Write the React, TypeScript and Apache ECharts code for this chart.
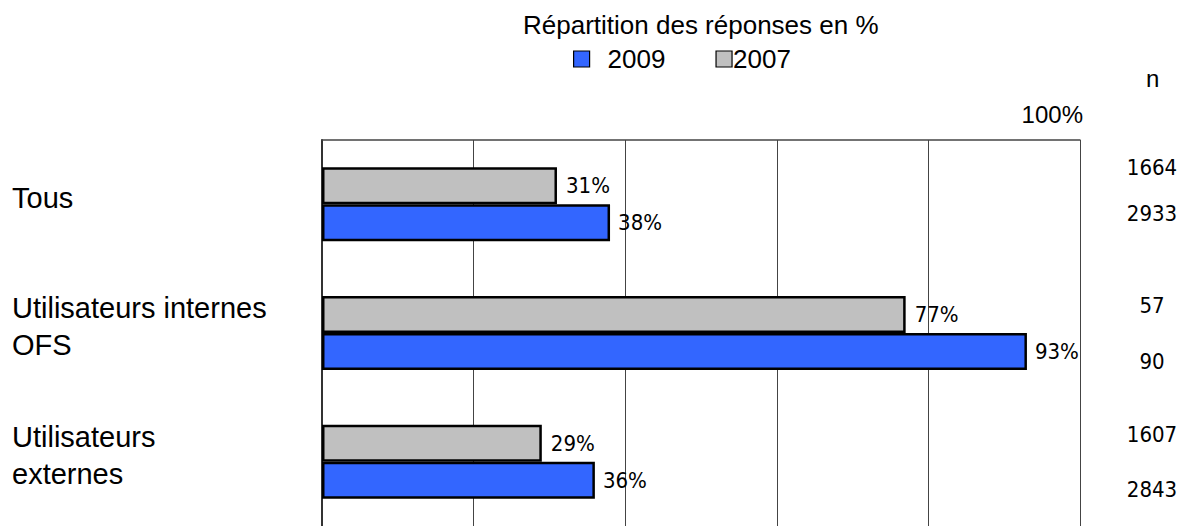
import React, { useEffect, useRef } from "react";
import * as echarts from "echarts";

const categories = ["Tous", "Utilisateurs internes\nOFS", "Utilisateurs\nexternes"];
const values2007 = [31, 77, 29];
const values2009 = [38, 93, 36];
const n2007 = [1664, 57, 1607];
const n2009 = [2933, 90, 2843];
const xTicks = [0, 20, 40, 60, 80, 100];

const SANS = "'Liberation Sans', Arial, sans-serif";
const NARROW = "'Liberation Sans Narrow', 'Arial Narrow', 'DejaVu Sans Condensed', sans-serif";
const BLUE = "#3366FF";
const GRAY = "#C0C0C0";

export default function App() {
  const ref = useRef<HTMLDivElement>(null);
  useEffect(() => {
    if (!ref.current) return;
    const chart = echarts.init(ref.current, undefined, { renderer: "svg" });
    const nLine = [45.5, 56, 55];
    const nFont = 22;
    chart.setOption({
      animation: false,
      backgroundColor: "#ffffff",
      title: {
        text: "Répartition des réponses en %",
        left: 523,
        top: 12,
        padding: 0,
        textStyle: { fontFamily: SANS, fontSize: 26, fontWeight: "normal", color: "#000" },
      },
      legend: {
        data: ["2009", "2007"],
        left: 573,
        top: 46,
        padding: 0,
        itemWidth: 16,
        itemHeight: 16,
        itemGap: 50,
        icon: "rect",
        itemStyle: { borderColor: "#000", borderWidth: 1.2 },
        formatter: (name: string) => (name === "2009" ? "{g|}" + name : name),
        textStyle: {
          fontFamily: SANS,
          fontSize: 26,
          color: "#000",
          padding: [0, 0, 0, -4],
          rich: { g: { width: 17, fontSize: 26 } },
        },
      },
      graphic: [
        {
          type: "text",
          left: 1146,
          top: 66,
          style: { text: "n", font: `24px ${SANS}`, fill: "#000" },
        },
      ],
      grid: { left: 322, top: 140, width: 758, height: 390, containLabel: false },
      xAxis: {
        type: "value",
        position: "top",
        min: xTicks[0],
        max: xTicks[xTicks.length - 1],
        interval: 20,
        axisLine: { show: true, onZero: false, lineStyle: { color: "#444", width: 1.5 } },
        axisTick: { show: false },
        axisLabel: {
          showMaxLabel: true,
          margin: 14,
          align: "right",
          fontFamily: SANS,
          fontSize: 24,
          color: "#000",
          padding: [0, -3, 0, 0],
          formatter: (v: number) => (v === 100 ? "100%" : ""),
        },
        splitLine: { show: true, lineStyle: { color: "#444", width: 1 } },
      },
      yAxis: [
        {
          type: "category",
          data: categories,
          inverse: true,
          axisLine: { show: true, lineStyle: { color: "#333", width: 2 } },
          axisTick: { show: false },
          axisLabel: {
            align: "left",
            margin: 310,
            formatter: (v: string) =>
              v
                .split("\n")
                .map((s) => `{t|${s}}`)
                .join("\n") + "\n{p| }",
            rich: {
              t: { fontFamily: SANS, fontSize: 29, lineHeight: 37, color: "#000" },
              p: { fontSize: 2, lineHeight: 13 },
            },
          },
        },
        {
          type: "category",
          data: categories,
          inverse: true,
          position: "right",
          axisLine: { show: false },
          axisTick: { show: false },
          axisLabel: {
            align: "center",
            margin: 72,
            formatter: (_v: string, i: number) => {
              const k = i === 0 ? "a" : i === 1 ? "b" : "c";
              const base = `{${k}|${n2007[i]}}\n{${k}|${n2009[i]}}`;
              return i === 0 ? base + "\n{pad| }" : base;
            },
            rich: {
              a: { fontFamily: NARROW, fontSize: nFont, lineHeight: nLine[0], color: "#000" },
              b: { fontFamily: NARROW, fontSize: nFont, lineHeight: nLine[1], color: "#000" },
              c: { fontFamily: NARROW, fontSize: nFont, lineHeight: nLine[2], color: "#000" },
              pad: { fontSize: 2, lineHeight: 27.5 },
            },
          },
        },
      ],
      series: [
        {
          name: "2007",
          type: "bar",
          data: values2007,
          barWidth: 37,
          barGap: "0%",
          itemStyle: { color: GRAY, borderColor: "#000", borderWidth: 2.5 },
          label: {
            show: true,
            position: "right",
            distance: 9,
            formatter: "{c}%",
            fontFamily: NARROW,
            fontSize: nFont,
            color: "#000",
          },
        },
        {
          name: "2009",
          type: "bar",
          data: values2009,
          barWidth: 37,
          barGap: "0%",
          itemStyle: { color: BLUE, borderColor: "#000", borderWidth: 2.5 },
          label: {
            show: true,
            position: "right",
            distance: 8,
            formatter: "{c}%",
            fontFamily: NARROW,
            fontSize: nFont,
            color: "#000",
          },
        },
      ],
    });
    return () => chart.dispose();
  }, []);
  return (
    <div
      ref={ref}
      style={{ position: "fixed", left: 0, top: 0, width: 1184, height: 526, background: "#fff" }}
    />
  );
}
